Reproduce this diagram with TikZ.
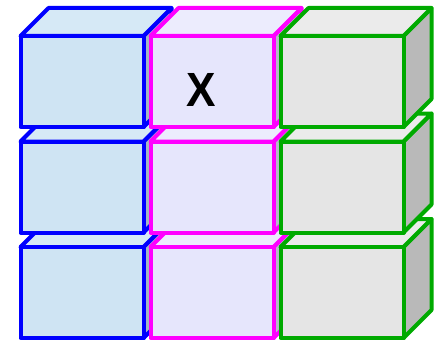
\documentclass[tikz,border=0pt]{standalone}
\usepackage{fontspec}
\setmainfont{Liberation Sans}
\definecolor{C_BLUE} {HTML}{0000FF}
\definecolor{C_MAG}  {HTML}{FF00FF}
\definecolor{C_GRN}  {HTML}{00AA00}
\definecolor{BL_FRONT}{HTML}{CFE4F3}
\definecolor{BL_TOP}  {HTML}{D6E9F6}
\definecolor{MG_FRONT}{HTML}{E6E6FC}
\definecolor{MG_TOP}  {HTML}{ECECFD}
\definecolor{GR_FRONT}{HTML}{E5E5E5}
\definecolor{GR_TOP}  {HTML}{EBEBEB}
\definecolor{GR_SIDE} {HTML}{B9B9B9}
\tikzset{
  %% -- one face of a cube --
  cube/face/.style={line width=4pt, line join=round},
  %% -- label inside a cube --
  cube/mark/.style={font=\fontsize{48}{48}\selectfont\bfseries,
    inner sep=0pt, xscale=0.92},
}
%% x, y (front top-left), line colour, front, top, side fill
\newcommand{\drawcube}[6]{%
  \draw[cube/face, draw=#3, fill=#6]
    (#1+123,#2) -- ++(28,-28) -- ++(0,91) -- ++(-28,28) -- cycle;
  \draw[cube/face, draw=#3, fill=#5]
    (#1,#2) -- ++(28,-28) -- ++(123,0) -- ++(-28,28) -- cycle;
  \draw[cube/face, draw=#3, fill=#4] (#1,#2) rectangle ++(123,91);
}

\begin{document}
\begin{tikzpicture}[x=1pt, y=-1pt]
\useasboundingbox (0,0) rectangle (438,342);

%% Cubes, bottom row first
\foreach \ty in {247, 141.5, 36} {
  \drawcube{20.5}{\ty}{C_BLUE}{BL_FRONT}{BL_TOP}{BL_FRONT!80!black}
  \drawcube{150.5}{\ty}{C_MAG}{MG_FRONT}{MG_TOP}{MG_FRONT!80!black}
  \drawcube{280.5}{\ty}{C_GRN}{GR_FRONT}{GR_TOP}{GR_SIDE}
}

%% Label
\node[cube/mark] (mark) at (201.5, 89.5) {X};
\end{tikzpicture}
\end{document}
